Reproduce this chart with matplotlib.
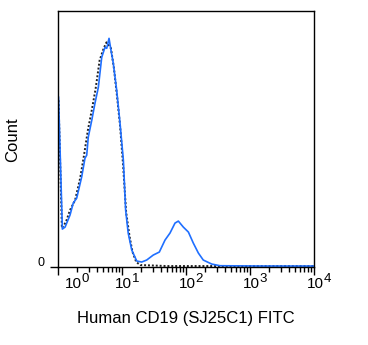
import matplotlib
matplotlib.use("Agg")
import matplotlib.pyplot as plt
import matplotlib.transforms as mtransforms
import numpy as np

plt.rcParams['font.family'] = ['Liberation Sans', 'DejaVu Sans']

# stained sample (CD19 FITC)
cd19_x = [1.02, 1.17, 1.29, 1.54, 1.73, 1.96, 2.34, 2.64, 2.81, 2.97, 3.37, 3.78,
          4.27, 4.82, 5.42, 5.77, 6.27, 6.73, 7.31, 8.26, 9.31, 10.5, 11.4, 12.5,
          14.2, 17.0, 20.3, 24.3, 30.8, 38.3, 47.0, 56.2, 67.3, 75.9, 90.8, 109,
          130, 156, 186, 252, 340, 1450, 9950]
cd19_y = [170, 38, 40, 52, 64, 69, 90, 109, 112, 130, 147, 164,
          180, 210, 220, 219, 229, 217, 204, 177, 144, 107, 57, 34,
          17, 6, 5, 7, 12, 15, 27, 34, 44, 46, 40, 35,
          24, 14, 7, 3, 1.3, 1, 1]

# unstained / isotype control
ctrl_x = [1.02, 1.15, 1.33, 1.54, 1.85, 2.22, 2.55, 2.93, 3.37, 3.88, 4.47, 5.17,
          5.72, 6.23, 6.72, 7.48, 8.33, 9.31, 10.4, 11.6, 13.1, 14.6, 16.7, 19.3,
          50, 500, 9950]
ctrl_y = [167, 39, 45, 57, 67, 89, 112, 137, 157, 179, 207, 219,
          225, 222, 219, 199, 172, 142, 102, 55, 31, 15, 5, 2,
          1, 1, 1]

x_ticks = [1, 10, 100, 1000, 10000]
x_exponents = ['0', '1', '2', '3', '4']

fig = plt.figure(figsize=(3.68, 3.45), dpi=100)
ax = fig.add_axes([0.1576, 0.226, 0.6957, 0.741])

ax.plot(ctrl_x, ctrl_y, color='#222222', lw=1.4, ls=(0, (1, 1)))
ax.plot(cd19_x, cd19_y, color='#1f6fff', lw=1.2)

ax.set_xscale('log')
ax.set_xlim(1, 10000)
ax.set_ylim(0, 256)

ax.set_xticks(x_ticks)
ax.set_xticklabels([])
ax.xaxis.set_minor_locator(matplotlib.ticker.LogLocator(base=10, subs=np.arange(2, 10)))
ax.xaxis.set_minor_formatter(matplotlib.ticker.NullFormatter())
ax.tick_params(axis='x', which='major', length=6, width=1)
ax.tick_params(axis='x', which='minor', length=3.5, width=1)

# decade labels: "10" plus a slightly raised exponent
for i, (t, e) in enumerate(zip(x_ticks, x_exponents)):
    dx = 5 if i == 0 else -4.9
    ax.annotate('10', xy=(t, 0), xycoords=('data', 'axes fraction'),
                xytext=(dx, -7.4), textcoords='offset points',
                ha='left', va='top', fontsize=11, annotation_clip=False)
    ax.annotate(e, xy=(t, 0), xycoords=('data', 'axes fraction'),
                xytext=(dx + 11.8, -4.4), textcoords='offset points',
                ha='left', va='top', fontsize=9.5, annotation_clip=False)

ax.set_yticks([0])
ax.set_yticklabels(['0'], fontsize=9)
ax.tick_params(axis='y', length=6, width=1, pad=3.5)
for lab in ax.get_yticklabels():
    lab.set_transform(lab.get_transform() + mtransforms.ScaledTranslation(0, 4 / 72, fig.dpi_scale_trans))

for s in ax.spines.values():
    s.set_linewidth(1.0)

ax.set_xlabel('Human CD19 (SJ25C1) FITC', fontsize=12, labelpad=22)
ax.set_ylabel('Count', fontsize=12, labelpad=13)

fig.savefig('out.png', dpi=100)
